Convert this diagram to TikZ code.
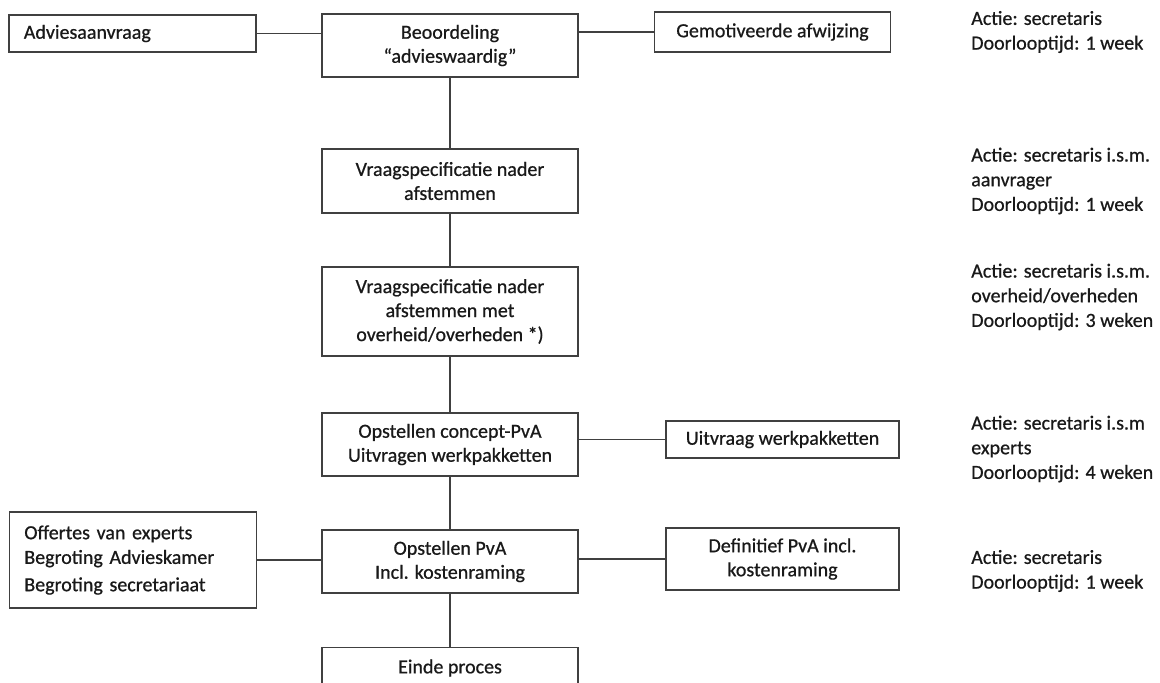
\documentclass[tikz,border=0pt]{standalone}
\usepackage{fontspec}
\setmainfont{Carlito}[FakeBold=0.7]
\usepackage{tikz}
\usetikzlibrary{positioning, calc}
\tikzset{
  stepbox/.style={
    draw=black!75, line width=1.1pt, align=center, fill=white,
    font=\fontsize{15}{18}\selectfont, text=black!90,
    minimum width=192pt, inner sep=4pt
  },
  sidebox/.style={
    draw=black!75, line width=1.1pt, align=center, fill=white,
    font=\fontsize{15}{18}\selectfont, text=black!90, inner sep=4pt
  },
  listbox/.style={
    draw=black!75, line width=1.1pt, align=left, fill=white,
    font=\fontsize{15}{18.5}\selectfont, text=black!90,
    inner xsep=11pt, inner ysep=4pt
  },
  notetext/.style={
    anchor=west, align=left, inner sep=0pt,
    font=\fontsize{15}{18.5}\selectfont, text=black!90
  },
  linkline/.style={draw=black!75, line width=1.1pt}
}

\begin{document}
\begin{tikzpicture}[x=0.75pt, y=-0.75pt]
  \useasboundingbox (0,0) rectangle (1160,682);

  % Main column
  \node[stepbox, minimum height=47.25pt] (beoord) at (450,45.5)
    {Beoordeling\\``advieswaardig''};
  \node[stepbox, minimum height=48pt] (spec) at (450,181)
    {Vraagspecificatie nader\\afstemmen};
  \node[stepbox, minimum height=66.75pt] (specoverheid) at (450,311.5)
    {Vraagspecificatie nader\\afstemmen met\\overheid/overheden *)};
  \node[stepbox, minimum height=47.25pt] (concept) at (450,444.5)
    {Opstellen concept-PvA\\Uitvragen werkpakketten};
  \node[stepbox, minimum height=47.25pt] (pva) at (450,561.5)
    {Opstellen PvA\\Incl. kostenraming};
  \node[stepbox, anchor=north, minimum height=52pt, text depth=24pt]
    (einde) at (450,647) {Einde proces};

  % Side boxes
  \node[listbox, text width=163pt, minimum height=27.75pt] (aanvraag)
    at (132.5,33.5) {Adviesaanvraag};
  \node[sidebox, minimum width=177pt, minimum height=30pt] (afwijzing)
    at (772.5,32) {Gemotiveerde afwijzing};
  \node[sidebox, minimum width=174.75pt, minimum height=27.75pt] (uitvraag)
    at (782.5,439.5) {Uitvraag werkpakketten};
  \node[listbox, text width=163pt, minimum height=72pt] (offertes)
    at (133,560) {Offertes van experts\\Begroting Advieskamer\\[2pt]Begroting secretariaat};
  \node[sidebox, minimum width=174.75pt, minimum height=46.5pt] (definitief)
    at (782.5,559) {Definitief PvA incl.\\kostenraming};

  % Connectors
  \draw[linkline] (aanvraag.east) -- (aanvraag.east -| beoord.west);
  \draw[linkline] (beoord.east |- afwijzing.west) -- (afwijzing.west);
  \draw[linkline] (beoord) -- (spec);
  \draw[linkline] (spec) -- (specoverheid);
  \draw[linkline] (specoverheid) -- (concept);
  \draw[linkline] (concept.east |- uitvraag.west) -- (uitvraag.west);
  \draw[linkline] (concept) -- (pva);
  \draw[linkline] (offertes.east) -- (offertes.east -| pva.west);
  \draw[linkline] (pva.east |- definitief.west) -- (definitief.west);
  \draw[linkline] (pva) -- (einde);

  % Notes
  \node[notetext] (note1) at (971,32)
    {Actie: secretaris\\Doorlooptijd: 1 week};
  \node[notetext] (note2) at (971,181)
    {Actie: secretaris i.s.m.\\aanvrager\\Doorlooptijd: 1 week};
  \node[notetext] (note3) at (971,297)
    {Actie: secretaris i.s.m.\\overheid/overheden\\Doorlooptijd: 3 weken};
  \node[notetext] (note4) at (971,449)
    {Actie: secretaris i.s.m\\experts\\Doorlooptijd: 4 weken};
  \node[notetext] (note5) at (971,571)
    {Actie: secretaris\\Doorlooptijd: 1 week};
\end{tikzpicture}
\end{document}
